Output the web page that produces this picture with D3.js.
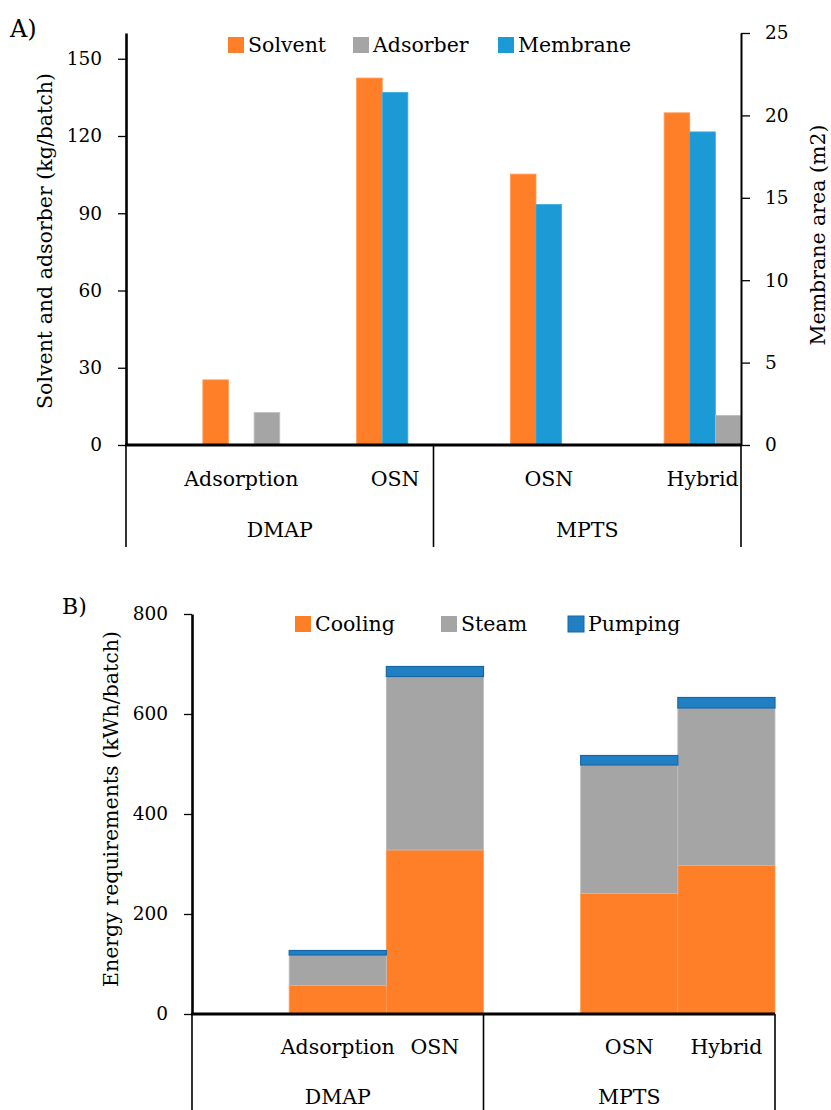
<!DOCTYPE html>
<html>
<head>
<meta charset="utf-8">
<script src="https://cdn.jsdelivr.net/npm/d3@7/dist/d3.min.js"></script>
<style>
  html, body { margin: 0; padding: 0; background: #fff; }
  svg { display: block; }
  text { font-family: "DejaVu Serif", serif; fill: #000; }
</style>
</head>
<body>
<svg id="chart" width="831" height="1110"></svg>
<script>
// ---------------- DATA ----------------
// Panel A
const topGroups = ["DMAP", "DMAP", "MPTS", "MPTS"];
const topCategories = ["Adsorption", "OSN", "OSN", "Hybrid"];
const topSeriesNames = ["Solvent", "Adsorber", "Membrane"];
const solventKg = [25.3, 142.5, 105.2, 129.0];
const adsorberKg = [12.6, 0, 0, 11.5];
const membraneArea = [0, 21.4, 14.6, 19.0];
const topLeftTicks = [0, 30, 60, 90, 120, 150];
const topRightTicks = [0, 5, 10, 15, 20, 25];

// Panel B
const bottomGroups = ["DMAP", "DMAP", "MPTS", "MPTS"];
const bottomCategories = ["Adsorption", "OSN", "OSN", "Hybrid"];
const bottomSeriesNames = ["Cooling", "Steam", "Pumping"];
const cooling = [57, 328, 241, 297];
const steam = [61, 347, 257, 315];
const pumping = [9, 20, 19, 21];
const bottomTicks = [0, 200, 400, 600, 800];

// ---------------- STYLE ----------------
const C = {
  orange: "#FE7F27", orangeEdge: "#FF9A55",
  gray: "#A5A5A5", grayEdge: "#BDBDBD",
  blueA: "#1C9AD6", blueAEdge: "#40AEE0",
  blueB: "#2080C3", blueBEdge: "#1767A8"
};
const FS = 20.5, TICKFS = 18.5;

const svg = d3.select("#chart");

// ================= PANEL A =================
(function panelA() {
  const x0 = 126, x1 = 741, yTop = 33, yBase = 445;
  const yL = d3.scaleLinear().domain([0, 160]).range([yBase, yTop]);
  const yR = d3.scaleLinear().domain([0, 25]).range([yBase, yTop]);
  const idx = topCategories.map((d, i) => i);
  const x = d3.scaleBand().domain(idx).range([x0, x1]).padding(0);
  const bw = x.bandwidth();
  // bars occupy the second half of each category slot
  const inner = d3.scaleBand().domain(["Solvent", "Membrane", "Adsorber"]).range([bw / 2, bw]).padding(0);

  const g = svg.append("g");
  idx.forEach(i => {
    const recs = [
      { s: "Solvent", v: solventKg[i], y: yL, fill: C.orange, edge: C.orangeEdge },
      { s: "Membrane", v: membraneArea[i], y: yR, fill: C.blueA, edge: C.blueAEdge },
      { s: "Adsorber", v: adsorberKg[i], y: yL, fill: C.gray, edge: C.grayEdge }
    ];
    recs.filter(r => r.v > 0).forEach(r => {
      g.append("rect")
        .attr("x", x(i) + inner(r.s))
        .attr("y", r.y(r.v))
        .attr("width", inner.bandwidth())
        .attr("height", yBase - r.y(r.v))
        .attr("fill", r.fill)
        .attr("stroke", r.edge)
        .attr("stroke-width", 0.8);
    });
  });

  // left axis
  const axL = svg.append("g").attr("transform", `translate(${x0},0)`)
    .call(d3.axisLeft(yL).tickValues(topLeftTicks).tickSizeOuter(0).tickSizeInner(8).tickPadding(16));
  axL.select(".domain").attr("stroke", "#000").attr("stroke-width", 2.6);
  axL.selectAll(".tick line").attr("stroke", "#000").attr("stroke-width", 1.3);
  axL.selectAll(".tick text").style("font-family", "DejaVu Serif").style("font-size", TICKFS + "px").attr("fill", "#000");

  // right axis
  const axR = svg.append("g").attr("transform", `translate(${x1},0)`)
    .call(d3.axisRight(yR).tickValues(topRightTicks).tickSizeOuter(0).tickSizeInner(9).tickPadding(15));
  axR.select(".domain").attr("stroke", "#000").attr("stroke-width", 2);
  axR.selectAll(".tick line").attr("stroke", "#000").attr("stroke-width", 1.3);
  axR.selectAll(".tick text").style("font-family", "DejaVu Serif").style("font-size", TICKFS + "px").attr("fill", "#000");

  // baseline
  svg.append("line").attr("x1", x0 - 1).attr("x2", x1).attr("y1", yL(0)).attr("y2", yL(0))
    .attr("stroke", "#000").attr("stroke-width", 3);

  // category labels (centred on the bar half of each slot)
  idx.forEach(i => {
    svg.append("text").attr("x", x(i) + bw * 0.75).attr("y", 479).attr("dy", "0.35em")
      .attr("text-anchor", "middle").style("font-size", FS + "px").text(topCategories[i]);
  });
  // group separators and labels
  const groups = Array.from(new Set(topGroups));
  const bounds = [x0];
  groups.forEach(gn => {
    const members = idx.filter(i => topGroups[i] === gn);
    const gx0 = x(members[0]), gx1 = x(members[members.length - 1]) + bw;
    if (bounds[bounds.length - 1] !== gx1) bounds.push(gx1);
    svg.append("text").attr("x", (gx0 + gx1) / 2).attr("y", 530).attr("dy", "0.35em")
      .attr("text-anchor", "middle").style("font-size", FS + "px").text(gn);
  });
  bounds.forEach(b => {
    svg.append("line").attr("x1", b).attr("x2", b).attr("y1", yBase).attr("y2", 547)
      .attr("stroke", "#000").attr("stroke-width", 1.6);
  });

  // axis titles
  svg.append("text").attr("transform", `translate(45,241) rotate(-90)`)
    .attr("dy", "0.35em").attr("text-anchor", "middle").style("font-size", FS + "px")
    .text("Solvent and adsorber (kg/batch)");
  svg.append("text").attr("transform", `translate(818,235) rotate(-90)`)
    .attr("dy", "0.35em").attr("text-anchor", "middle").style("font-size", FS + "px")
    .text("Membrane area (m2)");

  // legend
  const leg = [
    { name: topSeriesNames[0], fill: C.orange, x: 228 },
    { name: topSeriesNames[1], fill: C.gray, x: 353 },
    { name: topSeriesNames[2], fill: C.blueA, x: 498 }
  ];
  leg.forEach(l => {
    svg.append("rect").attr("x", l.x).attr("y", 37).attr("width", 16).attr("height", 16).attr("fill", l.fill);
    svg.append("text").attr("x", l.x + 20).attr("y", 45).attr("dy", "0.35em")
      .style("font-size", FS + "px").text(l.name);
  });

  // panel label
  svg.append("text").attr("x", 10).attr("y", 29).attr("dy", "0.35em").style("font-size", "24px").text("A)");
})();

// ================= PANEL B =================
(function panelB() {
  const x0 = 192, x1 = 775, yTop = 614, yBase = 1014;
  const y = d3.scaleLinear().domain([0, 800]).range([yBase, yTop]);
  const groups = Array.from(new Set(bottomGroups));
  const gx = d3.scaleBand().domain(groups).range([x0, x1]).padding(0);
  // each group has three slots; the first is empty
  const slot = d3.scaleBand().domain([0, 1, 2]).range([0, gx.bandwidth()]).padding(0);
  const idx = bottomCategories.map((d, i) => i);
  const slotOf = i => idx.filter(j => bottomGroups[j] === bottomGroups[i]).indexOf(i) + 1;

  const stackData = idx.map(i => ({ i, Cooling: cooling[i], Steam: steam[i], Pumping: pumping[i] }));
  const series = d3.stack().keys(bottomSeriesNames)(stackData);
  const fills = { Cooling: C.orange, Steam: C.gray, Pumping: C.blueB };
  const edges = { Cooling: C.orangeEdge, Steam: C.grayEdge, Pumping: C.blueBEdge };

  series.forEach(s => {
    svg.append("g").selectAll("rect").data(s).join("rect")
      .attr("x", d => gx(bottomGroups[d.data.i]) + slot(slotOf(d.data.i)))
      .attr("y", d => y(d[1]))
      .attr("width", slot.bandwidth())
      .attr("height", d => y(d[0]) - y(d[1]))
      .attr("fill", fills[s.key])
      .attr("stroke", edges[s.key])
      .attr("stroke-width", s.key === "Pumping" ? 1.2 : 0.8);
  });

  const ax = svg.append("g").attr("transform", `translate(${x0},0)`)
    .call(d3.axisLeft(y).tickValues(bottomTicks).tickSizeOuter(0).tickSizeInner(8).tickPadding(16));
  ax.select(".domain").attr("stroke", "#000").attr("stroke-width", 2.6);
  ax.selectAll(".tick line").attr("stroke", "#000").attr("stroke-width", 1.3);
  ax.selectAll(".tick text").style("font-family", "DejaVu Serif").style("font-size", TICKFS + "px").attr("fill", "#000");

  svg.append("line").attr("x1", x0 - 1).attr("x2", x1).attr("y1", y(0)).attr("y2", y(0))
    .attr("stroke", "#000").attr("stroke-width", 3);

  idx.forEach(i => {
    svg.append("text")
      .attr("x", gx(bottomGroups[i]) + slot(slotOf(i)) + slot.bandwidth() / 2)
      .attr("y", 1047).attr("dy", "0.35em").attr("text-anchor", "middle")
      .style("font-size", FS + "px").text(bottomCategories[i]);
  });
  const bounds = [x0];
  groups.forEach(gn => {
    bounds.push(gx(gn) + gx.bandwidth());
    svg.append("text").attr("x", gx(gn) + gx.bandwidth() / 2).attr("y", 1097).attr("dy", "0.35em")
      .attr("text-anchor", "middle").style("font-size", FS + "px").text(gn);
  });
  bounds.forEach(b => {
    svg.append("line").attr("x1", b).attr("x2", b).attr("y1", yBase).attr("y2", 1110)
      .attr("stroke", "#000").attr("stroke-width", 1.6);
  });

  svg.append("text").attr("transform", `translate(111,809) rotate(-90)`)
    .attr("dy", "0.35em").attr("text-anchor", "middle").style("font-size", FS + "px")
    .text("Energy requirements (kWh/batch)");

  const leg = [
    { name: bottomSeriesNames[0], fill: C.orange, x: 295 },
    { name: bottomSeriesNames[1], fill: C.gray, x: 441 },
    { name: bottomSeriesNames[2], fill: C.blueB, x: 568 }
  ];
  leg.forEach(l => {
    svg.append("rect").attr("x", l.x).attr("y", 616).attr("width", 16).attr("height", 16).attr("fill", l.fill)
      .attr("stroke", l.name === "Pumping" ? C.blueBEdge : "none");
    svg.append("text").attr("x", l.x + 20).attr("y", 624).attr("dy", "0.35em")
      .style("font-size", FS + "px").text(l.name);
  });

  svg.append("text").attr("x", 62).attr("y", 606).attr("dy", "0.35em").style("font-size", "22px").text("B)");
})();
</script>
</body>
</html>
